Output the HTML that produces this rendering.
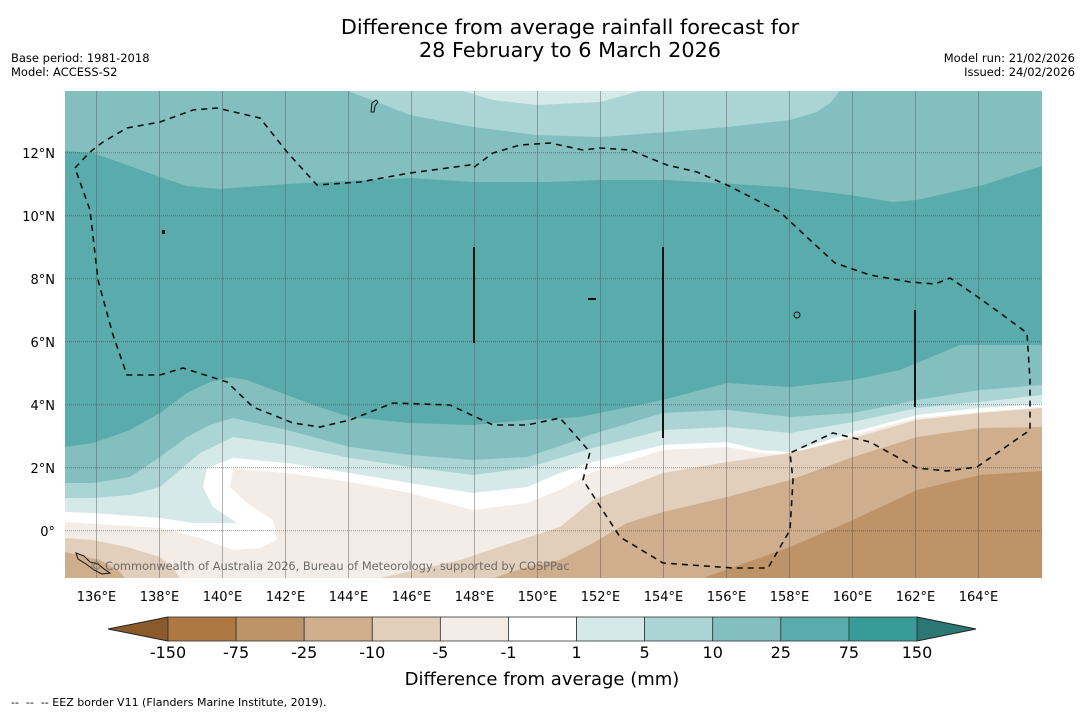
<!DOCTYPE html>
<html><head><meta charset="utf-8">
<style>
body{margin:0;background:#fff;width:1085px;height:713px;overflow:hidden;font-family:"DejaVu Sans","Liberation Sans",sans-serif;}
svg text{font-family:"DejaVu Sans","Liberation Sans",sans-serif;white-space:pre;}
</style></head><body>
<svg id="chart" width="1085" height="713" xmlns="http://www.w3.org/2000/svg">
<text x="570" y="34" font-size="20.8" text-anchor="middle">Difference from average rainfall forecast for</text>
<text x="570" y="57" font-size="20.8" text-anchor="middle">28 February to 6 March 2026</text>
<text x="11" y="62" font-size="11.5">Base period: 1981-2018</text>
<text x="11" y="76" font-size="11.5">Model: ACCESS-S2</text>
<text x="1075" y="62" font-size="11.5" text-anchor="end">Model run: 21/02/2026</text>
<text x="1075" y="76" font-size="11.5" text-anchor="end">Issued: 24/02/2026</text>
<defs><clipPath id="mapclip"><rect x="65" y="91" width="977" height="487"/></clipPath></defs>
<g id="map" clip-path="url(#mapclip)">
<rect x="65" y="91" width="977" height="487" fill="#84bfbf"/>
<polygon fill="#abd5d5" points="348,91 377,102 410,115 473,127 537,135 600,137 667,132 727,127 790,120 817,112 830,103 840,91"/>
<polygon fill="#d5e9e8" points="463,91 493,100 537,105 600,102 640,91"/>
<polygon fill="#5aabab" points="65,151 93,153 127,165 160,177 187,186 220,189 287,184 410,178 473,182 550,182 600,180 667,180 783,187 850,195 893,202 917,200 983,185 1042,166 1042,345 960,345 900,370 853,380 790,387 727,383 663,400 580,417 527,420 473,425 410,423 350,417 313,405 287,395 247,380 230,377 210,382 187,393 160,413 130,430 93,443 65,447"/>
<polygon fill="#abd5d5" points="65,483 93,483 130,477 160,457 187,437 210,425 233,418 287,430 350,447 410,455 473,460 527,457 560,446 593,434 663,413 727,410 790,417 853,413 917,400 980,390 1042,385 1042,578 65,578"/>
<polygon fill="#d5e9e8" points="65,498 93,498 130,495 160,487 180,470 200,453 233,437 287,445 350,458 410,467 473,475 527,468 560,458 593,448 663,430 727,427 760,430 790,433 853,422 917,408 980,402 1042,395 1042,578 65,578"/>
<polygon fill="#ffffff" points="65,512 93,513 160,518 193,523 237,523 213,507 203,487 207,468 233,458 287,463 350,473 410,483 473,493 527,487 560,473 593,462 663,445 727,442 760,450 790,452 853,432 917,415 980,408 1042,404 1042,578 65,578"/>
<polygon fill="#f4ede7" points="65,522 160,528 200,538 233,550 260,548 277,540 273,520 247,503 230,487 233,469 287,473 350,482 410,493 473,510 527,503 560,490 593,472 663,450 727,447 760,453 790,455 853,435 917,418 980,412 1042,407 1042,578 65,578"/>
<polygon fill="#e2cfbb" points="380,578 460,560 520,540 560,527 593,500 627,487 663,473 727,462 790,453 853,438 917,420 980,413 1042,408 1042,578"/>
<polygon fill="#e2cfbb" points="65,538 93,540 127,547 160,557 173,568 180,578 65,578"/>
<polygon fill="#cfae8d" points="493,578 530,566 560,560 593,543 627,523 663,512 727,497 790,480 853,457 917,437 980,428 1042,427 1042,578"/>
<polygon fill="#cfae8d" points="65,552 100,560 118,570 125,578 65,578"/>
<polygon fill="#bf9368" points="703,578 790,547 853,520 917,490 980,475 1042,471 1042,578"/>
<g id="grid"></g>
<polyline fill="none" stroke="#111" stroke-width="1.6" stroke-dasharray="6,5" points="75,168 90,152 103,142 127,128 160,122 193,110 217,108 260,118 287,152 317,185 360,182 410,173 470,165 473,168 493,153 520,145 550,143 583,150 600,148 630,150 667,165 697,172 727,185 780,212 810,240 835,263 870,275 910,282 935,284 950,278 975,295 1000,313 1027,333 1030,380 1030,430 977,467 947,471 917,468 870,442 833,433 790,453 793,480 790,530 768,568 733,568 663,563 620,537 583,480 590,452 560,418 527,425 493,425 450,405 393,403 350,420 320,427 293,423 253,407 227,382 183,368 160,375 127,375 113,335 98,280 90,210 75,168"/>
<line x1="474" y1="247" x2="474" y2="343" stroke="#111" stroke-width="2"/>
<line x1="663" y1="247" x2="663" y2="438" stroke="#111" stroke-width="2"/>
<line x1="915" y1="310" x2="915" y2="407" stroke="#111" stroke-width="2"/>
<path d="M372,103 l4,-3 l2,2 l-3,4 l-1,6 l-3,0 z" fill="none" stroke="#111" stroke-width="1"/>
<path d="M76,553 l8,3 l6,6 l8,2 l6,5 l6,4 l-8,1 l-8,-4 l-8,-6 l-8,-5 z" fill="none" stroke="#111" stroke-width="1"/>
<ellipse cx="797" cy="315" rx="3" ry="3" fill="none" stroke="#111" stroke-width="1"/>
<rect x="588" y="298" width="8" height="2" fill="#111"/>
<rect x="162" y="230" width="3" height="4" fill="#111"/>
<text x="90" y="570" font-size="11.4" fill="#6b6b6b">© Commonwealth of Australia 2026, Bureau of Meteorology, supported by COSPPac</text>
</g>
<g id="axes"></g>
<g id="colorbar"></g>
<text x="542" y="685" font-size="18" text-anchor="middle">Difference from average (mm)</text>
<text x="11" y="706" font-size="11" xml:space="preserve">--  --  -- EEZ border V11 (Flanders Marine Institute, 2019).</text>
</svg>
<script>
const lonTicks=[136,138,140,142,144,146,148,150,152,154,156,158,160,162,164];
const latTicks=[0,2,4,6,8,10,12];
const levelLabels=["-150","-75","-25","-10","-5","-1","1","5","10","25","75","150"];
const levelColors=["#ae7842","#bf9368","#cfae8d","#e2cfbb","#f4ede7","#ffffff","#d5e9e8","#abd5d5","#84bfbf","#5aabab","#379b98"];
const ns="http://www.w3.org/2000/svg";
const X0=65,X1=1042,Y0=91,Y1=578,LON0=135,LAT0=-1.5,PPD=31.5;
function xLon(l){return X0+(l-LON0)*PPD;}
function yLat(l){return Y1-(l-LAT0)*PPD;}
function mk(t,a,p){const e=document.createElementNS(ns,t);for(const k in a)e.setAttribute(k,a[k]);p.appendChild(e);return e;}
const grid=document.getElementById('grid'),axes=document.getElementById('axes'),cb=document.getElementById('colorbar');
lonTicks.forEach(l=>{
  const x=xLon(l);
  const g=mk('line',{x1:x,y1:Y0,x2:x,y2:Y1,stroke:'#555','stroke-opacity':0.45,'stroke-width':1},grid);
  
  
  const t=mk('text',{x:x,y:601,'font-size':13,'text-anchor':'middle'},axes);
  t.textContent=l+'°E';
  
  
});
latTicks.forEach(l=>{
  const y=yLat(l);
  const g=mk('line',{x1:X0,y1:y,x2:X1,y2:y,stroke:'#444','stroke-opacity':0.55,'stroke-width':1,'stroke-dasharray':'1,1'},grid);
  
  
  const t=mk('text',{x:55,y:y+5,'font-size':13,'text-anchor':'end'},axes);
  t.textContent=l===0?'0°':l+'°N';
  
  
});
const CB0=168,CB1=917,CBY=617,CBH=24,bw=(CB1-CB0)/levelColors.length;
const lt=mk('polygon',{points:`${CB0},${CBY} 108,${CBY+CBH/2} ${CB0},${CBY+CBH}`,fill:'#8b5a2b',stroke:'#222','stroke-width':1},cb);


const rt=mk('polygon',{points:`${CB1},${CBY} 976,${CBY+CBH/2} ${CB1},${CBY+CBH}`,fill:'#2a7774',stroke:'#222','stroke-width':1},cb);


levelColors.forEach((c,i)=>{
  const r=mk('rect',{x:CB0+i*bw,y:CBY,width:bw,height:CBH,fill:c,stroke:'#333','stroke-width':0.8},cb);
  
  
});
levelLabels.forEach((s,i)=>{
  const t=mk('text',{x:CB0+i*bw,y:658,'font-size':16,'text-anchor':'middle'},cb);
  t.textContent=s;
  
  
});
</script>
</body></html>
